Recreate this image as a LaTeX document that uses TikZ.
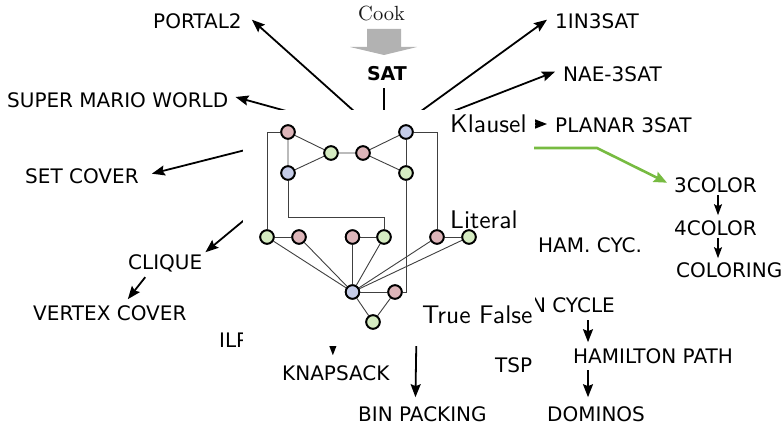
\documentclass[tikz,border=0pt]{standalone}
\usepackage{fontspec}
\newfontfamily\dejavu{DejaVu Sans}
\newfontfamily\lmss{lmsans10-regular.otf}
\newfontfamily\lmr{lmroman10-regular.otf}
\usetikzlibrary{arrows.meta,calc}
\definecolor{pinkc}{HTML}{DDB5B9}
\definecolor{greenc}{HTML}{D5EBC1}
\definecolor{bluec}{HTML}{C5CCE8}
\definecolor{arrgreen}{HTML}{77BB41}
\tikzset{
  lbl/.style={font=\dejavu\fontsize{20}{24}\selectfont, anchor=base west, inner sep=0pt, text height=14.6pt, text depth=0pt},
  glbl/.style={font=\lmss\fontsize{25.5}{30}\selectfont, anchor=base west, inner sep=0pt},
  arr/.style={line width=1.8pt, -{Stealth[length=13pt,width=10pt,inset=2pt]}},
  sarr/.style={line width=1.5pt, -{Stealth[length=11pt,width=8pt,inset=2pt]}},
  garr/.style={line width=2.6pt, draw=arrgreen, -{Stealth[length=13pt,width=11pt,inset=2pt]}},
  gedge/.style={draw=black!75, line width=0.9pt},
  vtx/.style={circle, minimum size=13.5pt, inner sep=0pt, line width=1.8pt, draw=black},
  vp/.style={vtx, fill=pinkc},
  vg/.style={vtx, fill=greenc},
  vb/.style={vtx, fill=bluec}
}
\begin{document}
\begin{tikzpicture}[x=1pt,y=-1pt]
\useasboundingbox (0,0) rectangle (781,425);

% Cook and SAT
\node[font=\lmr\fontsize{20.5}{24}\selectfont, text=black!90, anchor=base west, inner sep=0pt] (cook) at (358,21) {Cook};
\fill[gray!60] (367,29) -- (401,29) -- (401,47) -- (417,47) -- (384,55) -- (350,47) -- (367,47) -- cycle;
\node[font=\dejavu\bfseries\fontsize{19}{22}\selectfont, anchor=base, inner sep=0pt, text height=14pt, text depth=0pt] (sat) at (387,81) {SAT};

% problem labels
\node[lbl] (portal) at (153,29) {PORTAL2};
\node[lbl] (mario) at (7,107) {SUPER MARIO WORLD};
\node[lbl] (setcover) at (25,183) {SET COVER};
\node[lbl] (clique) at (128,269) {CLIQUE};
\node[lbl] (vc) at (33,320) {VERTEX COVER};
\node[lbl] (ilp) at (219,347) {ILP};
\node[lbl] (knap) at (282,380) {KNAPSACK};
\node[lbl] (bin) at (358,421) {BIN PACKING};
\node[lbl] (tsp) at (495,372) {TSP};
\node[lbl, anchor=base east] (hc) at (615,312) {HAMILTON CYCLE};
\node[lbl] (hp) at (573,363) {HAMILTON PATH};
\node[lbl] (dom) at (547,421) {DOMINOS};
\node[lbl] (hamcyc) at (538,252) {HAM. CYC.};
\node[lbl] (c3) at (674,192) {3COLOR};
\node[lbl] (c4) at (674,235) {4COLOR};
\node[lbl] (col) at (676,277) {COLORING};
\node[lbl] (one) at (555,29) {1IN3SAT};
\node[lbl] (nae) at (563,82) {NAE-3SAT};
\node[lbl] (planar) at (555,132) {PLANAR 3SAT};

% hidden sources (under the overlay) and arrow columns
\coordinate (t3sat) at (384,138);
\coordinate (tset) at (273,143);
\coordinate (tcl) at (266,202);
\coordinate (tknap) at (333,300);
\coordinate (tbin) at (417,300);
\coordinate (tplan) at (500,124);
\coordinate (gstart) at (534,148);
\coordinate (gbend) at (597,148);
\coordinate (hx) at (588,0);
\coordinate (cx) at (718,0);

% arrows
\draw[arr] ([xshift=-3pt,yshift=-7pt]sat.south) -- (t3sat);
\draw[arr] (t3sat) -- ([xshift=10pt,yshift=2pt]portal.east);
\draw[arr] (t3sat) -- ([xshift=7pt,yshift=2.7pt]mario.east);
\draw[arr] (t3sat) -- ([xshift=-8pt,yshift=2pt]one.west);
\draw[arr] (t3sat) -- ([xshift=-8pt,yshift=3pt]nae.west);
\draw[arr] (tplan) -- ([xshift=-8pt,yshift=0.7pt]planar.west);
\draw[arr] (tset) -- ([xshift=13pt,yshift=2pt]setcover.east);
\draw[arr] (tcl) -- ([xshift=3pt,yshift=2pt]clique.north east);
\draw[arr] ([xshift=-20pt,yshift=-8pt]clique.south) -- ([xshift=18pt,yshift=6pt]vc.north);
\draw[arr] (tknap) -- ([xshift=-3pt,yshift=10pt]knap.north);
\draw[arr] (tbin) -- ([xshift=-7pt,yshift=9pt]bin.north);
\draw[arr] ($(hc.south -| hx)+(0,8)$) -- ($(hp.north -| hx)+(0,-6)$);
\draw[arr] ($(hp.south -| hx)+(0,7)$) -- ($(dom.north -| hx)+(0,-9)$);
\draw[sarr] ($(c3.south -| cx)+(0,3)$) -- ($(c4.north -| cx)+(0,-5)$);
\draw[sarr] ($(c4.south -| cx)+(0,3)$) -- ($(col.north -| cx)+(0,-4)$);

% white overlay
\fill[white] (243,110) rectangle (535,346);

\draw[garr] (gstart) -- (gbend) -- ([xshift=-7pt,yshift=2pt]c3.west);

% gadget vertices
\coordinate (jc) at (384,217);
\node[vp] (A) at (288,132) {};
\node[vb] (B) at (406,132) {};
\node[vg] (C) at (331,153) {};
\node[vp] (D) at (363,153) {};
\node[vb] (E) at (288,173) {};
\node[vg] (F) at (406,173) {};
\node[vg] (G) at (267,237) {};
\node[vp] (H) at (299,237) {};
\node[vp] (I) at (352.5,237) {};
\node[vg] (J) at (384,237) {};
\node[vp] (K) at (437,237) {};
\node[vg] (L) at (469,237) {};
\node[vb] (M) at (352.5,292) {};
\node[vp] (N) at (395,292) {};
\node[vg] (O) at (373,322) {};

% gadget edges
\draw[gedge] (A) -- (C) -- (D) -- (B);
\draw[gedge] (A) -- (E) -- (C);
\draw[gedge] (D) -- (F);
\draw[gedge] (B) -- (F) -- (F |- N) -- (N);
\draw[gedge] (A) -- (A -| G) -- (G);
\draw[gedge] (B) -- (B -| K) -- (K);
\draw[gedge] (E) -- (E |- jc) -- (jc) -- (J);
\draw[gedge] (G) -- (H);
\draw[gedge] (I) -- (J);
\draw[gedge] (K) -- (L);
\foreach \t in {G,H,I,J,K,L,N,O} \draw[gedge] (M) -- (\t);
\draw[gedge] (N) -- (O);

% redraw vertices on top of the edges
\foreach \n/\s in {A/vp,B/vb,C/vg,D/vp,E/vb,F/vg,G/vg,H/vp,I/vp,J/vg,K/vp,L/vg,M/vb,N/vp,O/vg}
  \node[\s] at (\n) {};

% gadget labels
\node[glbl] (klausel) at (450,132) {Klausel};
\node[glbl] (literal) at (450,228) {Literal};
\node[glbl] (tf) at (422,323) {True False};
\end{tikzpicture}
\end{document}
